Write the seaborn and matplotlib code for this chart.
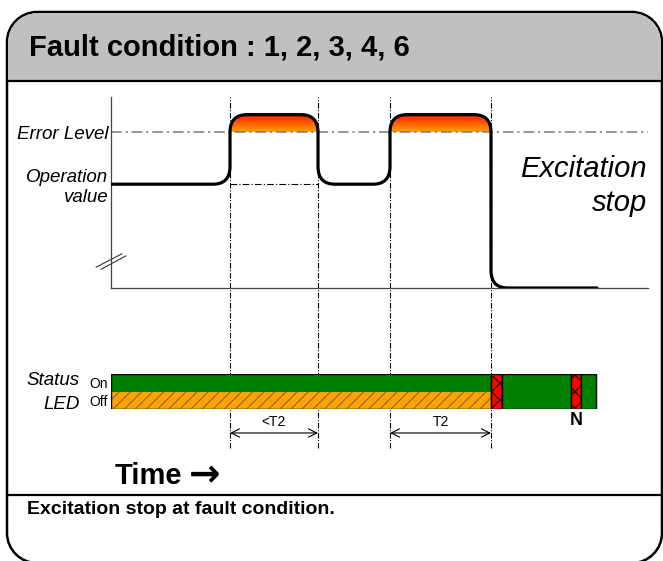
import numpy as np
import matplotlib
matplotlib.use("Agg")
import matplotlib.pyplot as plt
import seaborn as sns
from matplotlib.patches import Rectangle, PathPatch
from matplotlib.path import Path

# ---- data (time in units of the drawing, 1 unit ~ 10 px) ----
t_events = [11.9, 20.7, 27.9, 38.0]          # dash-dot time markers
t_axis_end = 53.7

level_operation = 1.0
level_error = 1.5
level_top = 1.84

# corners of the monitored value (square wave)
wave_t = [0.0, 11.9, 11.9, 20.7, 20.7, 27.9, 27.9, 38.0, 38.0, 48.6]
wave_v = [1.0, 1.0, 1.67, 1.67, 1.0, 1.0, 1.67, 1.67, 0.0, 0.0]
pulses = [(11.9, 20.7), (27.9, 38.0)]
peak = 1.67

# status LED
led_rows = ["Off", "On"]
led_split_end = 38.0
led_left = [38.0, 39.1, 46.0, 47.0]
led_width = [1.1, 6.9, 1.0, 1.5]
led_color = ["#ff0000", "#008000", "#ff0000", "#008000"]
led_hatch = ["xx", "", "xx", ""]

spans = [(11.9, 20.7, "<T2"), (27.9, 38.0, "T2")]

title = "Fault condition : 1, 2, 3, 4, 6"
caption = "Excitation stop at fault condition."

sns.set_theme(style="white")
plt.rcParams["font.family"] = ["Liberation Sans", "DejaVu Sans"]
plt.rcParams["text.color"] = "black"
plt.rcParams["hatch.linewidth"] = 0.8

W, H = 663, 561
fig = plt.figure(figsize=(W / 100, H / 100), dpi=100)

# background axes in pixel units: frame, header, caption
bg = fig.add_axes([0, 0, 1, 1])
bg.set_xlim(0, W)
bg.set_ylim(H, 0)
bg.axis("off")


def round_rect(x0, y0, x1, y1, r):
    k = 0.5523 * r
    v = [(x0 + r, y0), (x1 - r, y0),
         (x1 - r + k, y0), (x1, y0 + r - k), (x1, y0 + r),
         (x1, y1 - r),
         (x1, y1 - r + k), (x1 - r + k, y1), (x1 - r, y1),
         (x0 + r, y1),
         (x0 + r - k, y1), (x0, y1 - r + k), (x0, y1 - r),
         (x0, y0 + r),
         (x0, y0 + r - k), (x0 + r - k, y0), (x0 + r, y0),
         (x0 + r, y0)]
    c = [Path.MOVETO, Path.LINETO] + [Path.CURVE4] * 3 + [Path.LINETO] + [Path.CURVE4] * 3 \
        + [Path.LINETO] + [Path.CURVE4] * 3 + [Path.LINETO] + [Path.CURVE4] * 3 + [Path.CLOSEPOLY]
    return Path(v, c)


# filled outline (a filled path is not line-clipped by Agg, so the curves stay intact)
bg.add_patch(PathPatch(round_rect(7, 12, 662, 563, 30), fc="white", ec="black",
                       lw=1.8, zorder=0))
inner = PathPatch(round_rect(8.3, 13.3, 660.7, 561.7, 28.7), fc="none", ec="none")
bg.add_patch(inner)
head = Rectangle((0, 0), W, 81, fc="#c0c0c0", ec="none", zorder=1)
bg.add_patch(head)
head.set_clip_path(inner)
bg.hlines([81, 495], 7, 662, color="black", lw=1.6, zorder=2)
bg.text(29, 55, title, fontsize=21, fontweight="bold", va="baseline")
bg.text(115, 484, "Time", fontsize=21, fontweight="bold", va="baseline")
bg.text(189, 486, "\u2192", fontsize=27, fontweight="bold", va="baseline",
        family="DejaVu Sans")
bg.text(27, 514, caption, fontsize=14, fontweight="bold", va="baseline")


def px_box(x0, y0, x1, y1):
    return [x0 / W, 1 - y1 / H, (x1 - x0) / W, (y1 - y0) / H]


# signal axes
ax = fig.add_axes(px_box(111, 97, 648, 288))
ax.set_facecolor("none")
ax.set_xlim(0, t_axis_end)
ax.set_ylim(0, level_top)
sns.despine(ax=ax)
for s in ("left", "bottom"):
    ax.spines[s].set_color("#444444")
    ax.spines[s].set_linewidth(0.9)
ax.set_xticks([])
ax.set_yticks([level_operation, level_error], ["Operation\nvalue", "Error Level"])
ax.tick_params(axis="y", length=0, pad=2, labelsize=13.5, labelcolor="black")
for lab in ax.get_yticklabels():
    lab.set_fontstyle("italic")
    lab.set_linespacing(1.25)


def rounded_path(ts, vs, rx, ry):
    verts = [(ts[0], vs[0])]
    codes = [Path.MOVETO]
    for i in range(1, len(ts) - 1):
        dx, dy = np.sign(ts[i] - ts[i - 1]), np.sign(vs[i] - vs[i - 1])
        ex, ey = np.sign(ts[i + 1] - ts[i]), np.sign(vs[i + 1] - vs[i])
        verts += [(ts[i] - dx * rx, vs[i] - dy * ry), (ts[i], vs[i]),
                  (ts[i] + ex * rx, vs[i] + ey * ry)]
        codes += [Path.LINETO, Path.CURVE3, Path.CURVE3]
    verts.append((ts[-1], vs[-1]))
    codes.append(Path.LINETO)
    return verts, codes


verts, codes = rounded_path(wave_t, wave_v, 1.7, 0.17)
# area under the wave, used to clip the gradient
area = Path(verts + [(0, 0), (0, 0)], codes + [Path.LINETO, Path.CLOSEPOLY])
clip = PathPatch(area, transform=ax.transData, fc="none", ec="none")
ax.add_patch(clip)
c_top = np.array([1.0, 0.10, 0.0])
c_bot = np.array([1.0, 0.63, 0.0])
grad = c_bot + np.linspace(0, 1, 64)[:, None, None] * (c_top - c_bot)
for a, b in pulses:
    im = ax.imshow(grad, extent=(a, b, level_error, peak), origin="lower",
                   aspect="auto", zorder=1)
    im.set_clip_path(clip)
ax.set_xlim(0, t_axis_end)
ax.set_ylim(0, level_top)

sns.lineplot(x=[0, t_axis_end], y=[level_error, level_error], ax=ax, color="#7a7a7a",
             lw=1.1, linestyle=(0, (7, 2.5, 1.5, 2.5)), zorder=2)
sns.lineplot(x=t_events[:2], y=[level_operation] * 2, ax=ax, color="black",
             lw=0.8, linestyle=(0, (6, 2, 1, 2)), zorder=2)
ax.add_patch(PathPatch(Path(verts, codes), fc="none", ec="black", lw=2.3, zorder=3,
                       capstyle="round"))
ax.vlines(t_events, -1.54, level_top, color="black", lw=0.8,
          linestyles=[(0, (5, 1.5, 1, 1.5))], clip_on=False, zorder=0)
ax.plot([-1.5, 1.1], [0.2, 0.33], color="#333333", lw=0.8, clip_on=False)
ax.plot([-1.0, 1.5], [0.18, 0.31], color="#333333", lw=0.8, clip_on=False)
ax.text(53.6, 1.067, "Excitation", fontsize=21, style="italic", ha="right", va="baseline")
ax.text(53.6, 0.743, "stop", fontsize=21, style="italic", ha="right", va="baseline")

# status LED axes
led = fig.add_axes(px_box(111, 374, 648, 409))
led.set_facecolor("none")
led.set_zorder(ax.get_zorder() + 1)
led.set_xlim(0, t_axis_end)
led.set_ylim(0, 2)
for s in led.spines.values():
    s.set_visible(False)
led.set_xticks([])
led.set_yticks([0.5, 1.5], led_rows)
led.tick_params(axis="y", length=0, pad=2, labelsize=10, labelcolor="black")
led.barh([1.5], [led_split_end], left=0, height=1, color="#008000", lw=0)
led.barh([0.5], [led_split_end], left=0, height=1, color="#ffa200", edgecolor="#7a6a50",
         lw=0, hatch="///")
led.add_patch(Rectangle((0, 0), led_split_end, 2, fc="none", ec="black", lw=1))
bars = led.barh([1] * len(led_left), led_width, left=led_left, height=2,
                color=led_color, edgecolor="black", lw=1)
for bar, h in zip(bars, led_hatch):
    bar.set_hatch(h)
led.text(-3.1, 1.37, "Status", fontsize=13.5, style="italic", ha="right", va="baseline")
led.text(-3.1, 0.0, "LED", fontsize=13.5, style="italic", ha="right", va="baseline")
led.text(46.5, -0.63, "N", fontsize=13, fontweight="bold", ha="center", va="center")
for a, b, lab in spans:
    led.annotate("", xy=(a, -1.37), xytext=(b, -1.37), annotation_clip=False,
                 arrowprops=dict(arrowstyle="<->,head_length=0.5,head_width=0.25",
                                 lw=0.8, color="black", shrinkA=0, shrinkB=0))
    led.text((a + b) / 2, -0.97, lab, fontsize=10, ha="center", va="baseline")

fig.savefig("out.png", dpi=100)
